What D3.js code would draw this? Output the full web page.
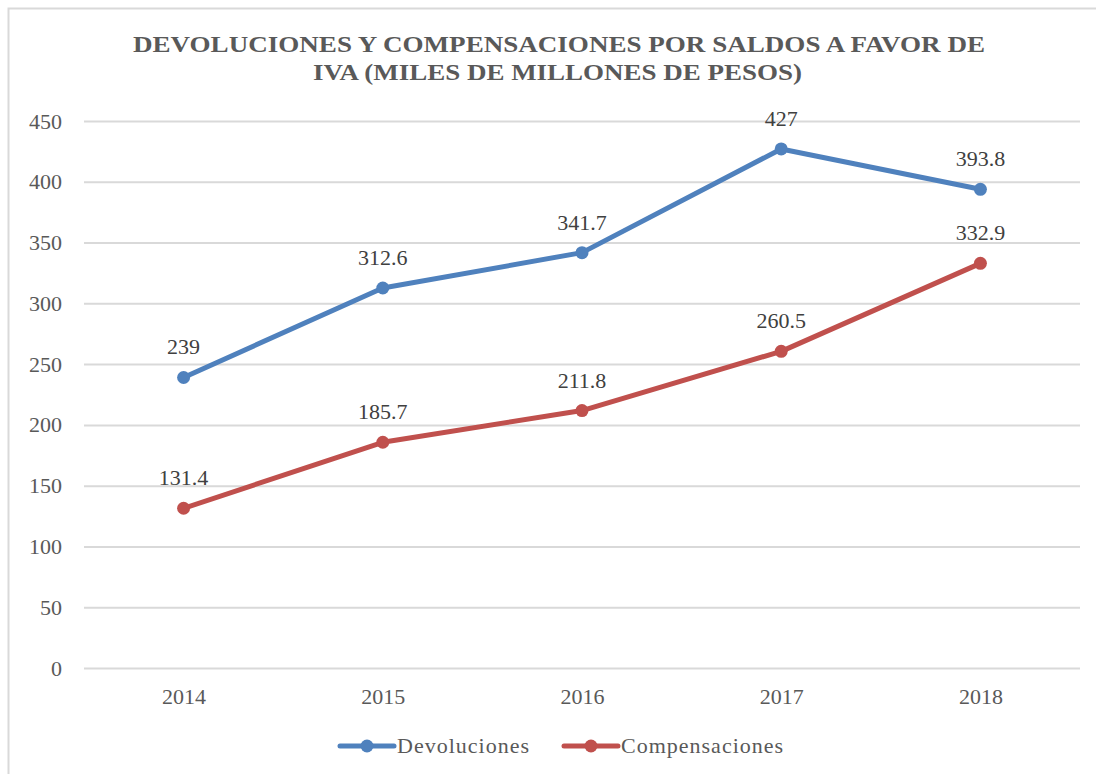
<!DOCTYPE html>
<html>
<head>
<meta charset="utf-8">
<script src="https://cdn.jsdelivr.net/npm/d3@7"></script>
<style>
  body { margin: 0; background: #fff; }
</style>
</head>
<body>
<div class="chart"></div>
<script>
// data
const years = ['2014', '2015', '2016', '2017', '2018'];
const devoluciones = [239, 312.6, 341.7, 427, 393.8];
const compensaciones = [131.4, 185.7, 211.8, 260.5, 332.9];
const yTicks = [0, 50, 100, 150, 200, 250, 300, 350, 400, 450];
const seriesNames = ['Devoluciones', 'Compensaciones'];
const seriesColors = ['#4f81bd', '#c0504d'];

const serif = "'Liberation Serif', 'Times New Roman', 'DejaVu Serif', serif";

const width = 1096, height = 774;
const margin = { top: 121, right: 16, bottom: 106, left: 84 };
const innerW = width - margin.left - margin.right;
const innerH = height - margin.top - margin.bottom;

const svg = d3.select('.chart').append('svg')
  .attr('width', width).attr('height', height)
  .attr('font-family', serif);

// outer border (only left/top visible)
svg.append('path')
  .attr('d', `M8.5,${height} V8.5 H${width}`)
  .attr('fill', 'none').attr('stroke', '#d9d9d9').attr('stroke-width', 2);

// title - stretched wide like the original
const title = svg.append('g')
  .attr('font-family', serif)
  .attr('font-size', 22.5).attr('font-weight', 'bold').attr('fill', '#595959');
title.append('text').attr('x', 133).attr('y', 52)
  .attr('textLength', 852).attr('lengthAdjust', 'spacingAndGlyphs')
  .text('DEVOLUCIONES Y COMPENSACIONES POR SALDOS A FAVOR DE');
title.append('text').attr('x', 313).attr('y', 80)
  .attr('textLength', 489).attr('lengthAdjust', 'spacingAndGlyphs')
  .text('IVA (MILES DE MILLONES DE PESOS)');

const g = svg.append('g').attr('transform', `translate(${margin.left},${margin.top})`);

const x = d3.scalePoint().domain(years).range([0, innerW]).padding(0.5);
const y = d3.scaleLinear().domain([0, 450]).range([innerH, 0]);

// grid + y axis
const yAxis = d3.axisLeft(y).tickValues(yTicks).tickSize(-innerW).tickPadding(22);
const yG = g.append('g').call(yAxis).attr('font-family', serif).attr('font-size', 22);
yG.select('.domain').remove();
yG.selectAll('line').attr('stroke', '#d9d9d9').attr('stroke-width', 2);
yG.selectAll('text').attr('fill', '#595959');

// x axis
const xAxis = d3.axisBottom(x).tickSize(0).tickPadding(20);
const xG = g.append('g').attr('transform', `translate(0,${innerH})`).call(xAxis)
  .attr('font-family', serif).attr('font-size', 22);
xG.select('.domain').remove();
xG.selectAll('text').attr('fill', '#595959');

const series = [devoluciones, compensaciones];
const line = d3.line().x((d, i) => x(years[i])).y(d => y(d));

series.forEach((vals, si) => {
  g.append('path').datum(vals)
    .attr('d', line)
    .attr('fill', 'none')
    .attr('stroke', seriesColors[si])
    .attr('stroke-width', 5)
    .attr('stroke-linejoin', 'round');
  g.selectAll('.dot' + si).data(vals).enter().append('circle')
    .attr('cx', (d, i) => x(years[i]))
    .attr('cy', d => y(d))
    .attr('r', 6.5)
    .attr('fill', seriesColors[si]);
  g.selectAll('.lbl' + si).data(vals).enter().append('text')
    .attr('x', (d, i) => x(years[i]))
    .attr('y', d => y(d) - 23)
    .attr('text-anchor', 'middle')
    .attr('font-family', serif)
    .attr('font-size', 22)
    .attr('fill', '#404040')
    .text(d => d);
});

// legend
const legend = svg.append('g').attr('transform', `translate(0,746)`);
const legendX = [340, 564];
seriesNames.forEach((name, i) => {
  const lg = legend.append('g').attr('transform', `translate(${legendX[i]},0)`);
  lg.append('line').attr('x1', 0).attr('x2', 54).attr('y1', 0).attr('y2', 0)
    .attr('stroke', seriesColors[i]).attr('stroke-width', 5).attr('stroke-linecap', 'round');
  lg.append('circle').attr('cx', 27).attr('cy', 0).attr('r', 6.5).attr('fill', seriesColors[i]);
  lg.append('text').attr('x', 57).attr('y', 7)
    .attr('font-family', serif)
    .attr('font-size', 22).attr('fill', '#595959').attr('letter-spacing', 1)
    .text(name);
});
</script>
</body>
</html>
